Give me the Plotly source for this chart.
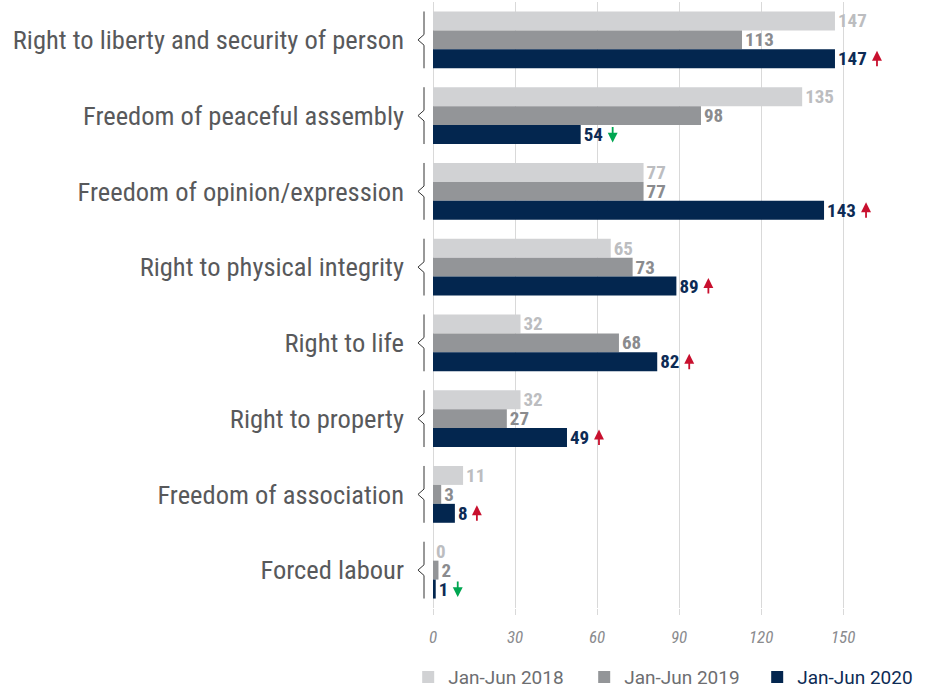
import plotly.graph_objects as go

categories = ["Right to liberty and security of person", "Freedom of peaceful assembly",
              "Freedom of opinion/expression", "Right to physical integrity", "Right to life",
              "Right to property", "Freedom of association", "Forced labour"]
v2018 = [147, 135, 77, 65, 32, 32, 11, 0]
v2019 = [113, 98, 77, 73, 68, 27, 3, 2]
v2020 = [147, 54, 143, 89, 82, 49, 8, 1]
series_names = ["Jan-Jun 2018", "Jan-Jun 2019", "Jan-Jun 2020"]
tick_vals = [0, 30, 60, 90, 120, 150]

FONT = "Roboto Condensed, Liberation Sans Narrow, Roboto, sans-serif"
LEGFONT = "Roboto, sans-serif"
bar_colors = ["#d1d2d4", "#939598", "#03264f"]
text_colors = ["#bcbdc0", "#8a8b8e", "#0d2b55"]
legend_colors = ["#6d6e71", "#6d6e71", "#0d2b55"]
legend_widths = [131, 128, 118]

fig = go.Figure()
for name, vals, bc, tc, lc, lw in zip(series_names, [v2018, v2019, v2020], bar_colors,
                                      text_colors, legend_colors, legend_widths):
    fig.add_trace(go.Bar(
        y=categories, x=vals, orientation="h",
        name=f"<span style='color:{lc}'>{name}</span>",
        legendwidth=lw,
        marker=dict(color=bc, line=dict(width=0)),
        texttemplate="<b>%{x}</b>", textposition="outside",
        textfont=dict(color=tc, size=19, family=FONT),
        constraintext="none", cliponaxis=False,
    ))

# braces and trend arrows
for i, (c, a, b) in enumerate(zip(categories, v2019, v2020)):
    xa, xb = -0.0203, -0.0339
    fig.add_shape(type="path", xref="paper", yref="y",
                  path=f"M {xa},{i-0.375} L {xa},{i-0.07} L {xb},{i} L {xa},{i+0.07} L {xa},{i+0.375}",
                  line=dict(color="#333333", width=1))
    up = b > a
    nd = len(str(b))
    fig.add_annotation(x=b, y=i + 0.25, xref="x", yref="y", text="",
                       showarrow=True, ax=0, ay=17 if up else -17,
                       xshift=12 + 10 * nd, yshift=8 if up else -8,
                       arrowhead=2, arrowsize=1.1, arrowwidth=1.8,
                       arrowcolor="#c8102e" if up else "#00a651")

fig.update_layout(
    width=926, height=688,
    margin=dict(l=433, r=50, t=2, b=80, autoexpand=False),
    paper_bgcolor="white", plot_bgcolor="white",
    barmode="group", bargap=0.25, bargroupgap=0,
    font=dict(family=FONT, color="#58595b"),
    showlegend=True,
    legend=dict(orientation="h", x=-0.056, xanchor="left", y=-0.114, yanchor="middle",
                font=dict(size=19, family=LEGFONT), traceorder="normal",
                itemwidth=30),
    xaxis=dict(range=[0, 162], tickvals=tick_vals, showgrid=True, gridcolor="#d9d9d9",
               gridwidth=1, zeroline=True, zerolinecolor="#d9d9d9", zerolinewidth=1,
               ticks="outside", ticklen=6, tickcolor="#d9d9d9", ticklabelstandoff=8,
               tickfont=dict(size=17, color="#8a8b8e", style="italic", family=FONT),
               showline=False, fixedrange=True),
    yaxis=dict(autorange="reversed", tickfont=dict(size=26.5, color="#58595b", family=FONT),
               ticks="", ticklabelstandoff=28, showline=False, showgrid=False),
)

fig.write_html("out.html", config={"displayModeBar": False},
               post_script="document.body.style.margin='0px';")
